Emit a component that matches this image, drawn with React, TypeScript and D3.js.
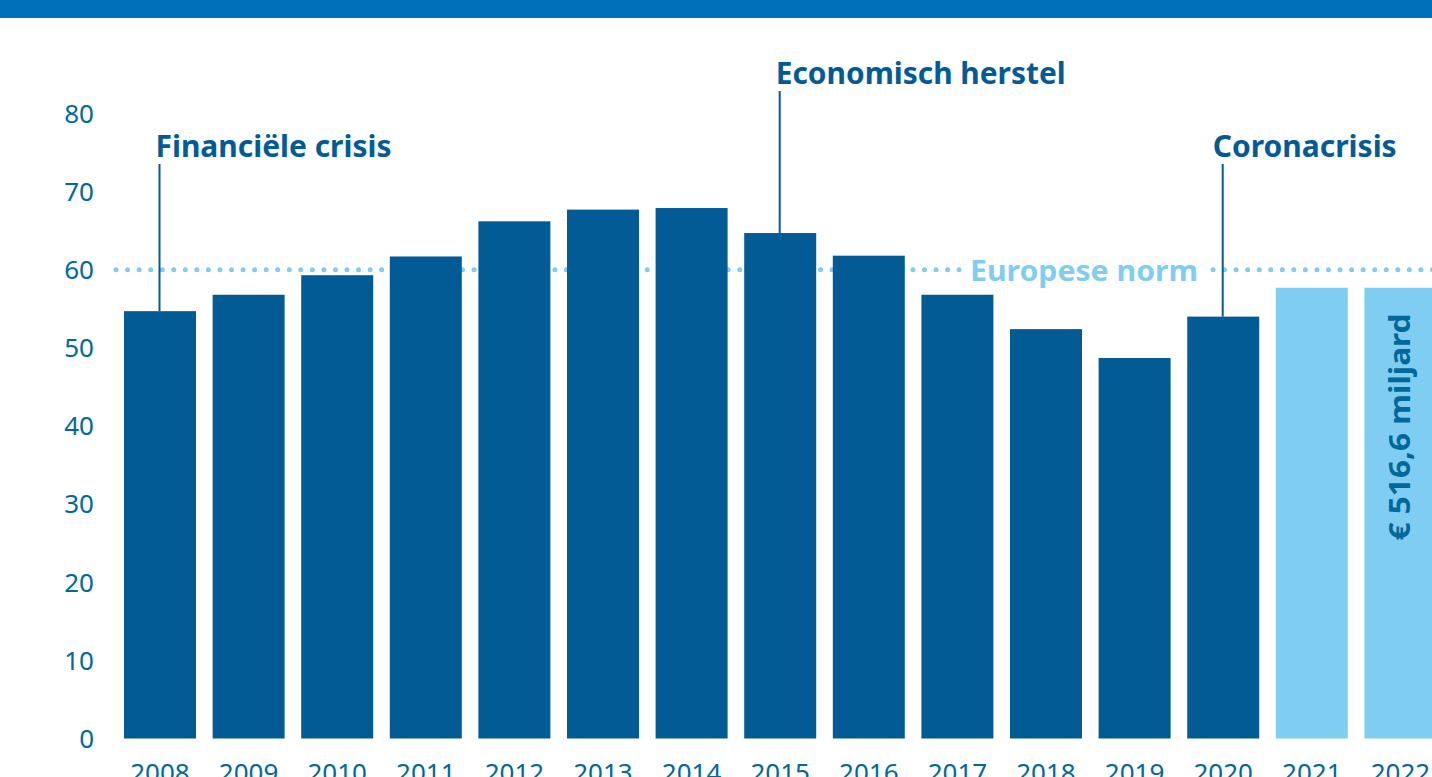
import React from "react";
import * as d3 from "d3";

const years = ["2008","2009","2010","2011","2012","2013","2014","2015","2016","2017","2018","2019","2020","2021","2022"];
const values = [54.7, 56.8, 59.3, 61.7, 66.2, 67.7, 67.9, 64.7, 61.8, 56.8, 52.4, 48.7, 54.0, 57.7, 57.7];
const forecastYears = ["2021", "2022"];
const yTicks = [0, 10, 20, 30, 40, 50, 60, 70, 80];
const normValue = 60;
const normLabel = "Europese norm";
const annotations = [
  { year: "2008", label: "Financiële crisis", labelLevel: 1 },
  { year: "2015", label: "Economisch herstel", labelLevel: 2 },
  { year: "2020", label: "Coronacrisis", labelLevel: 1 },
];
const amountLabel = "€ 516,6 miljard";

const W = 1432, H = 777;
const DARK = "#035B96";
const LIGHT = "#7FCEF2";
const TEXT = "#01689B";
const FONT = "'Noto Sans', sans-serif";

export default function App() {
  const x = d3.scaleBand<string>().domain(years).range([115.7, 1444.7]).paddingInner(0.1874).paddingOuter(0.0937);
  const y = d3.scaleLinear().domain([0, 80]).range([738.5, 113.5]);
  const bw = x.bandwidth();
  const ny = y(normValue);

  const annoWidths: Record<string, number> = { "2008": 236, "2015": 290, "2020": 184 };
  const annoStartOffset: Record<string, number> = { "2008": -4, "2015": -4, "2020": -10 };

  return (
    <svg width={W} height={H} style={{ position: "absolute", left: 0, top: 0, background: "#fff" }} fontFamily={FONT}>
      <rect x={0} y={0} width={W} height={18} fill="#0170BA" />
      <line x1={116} x2={963} y1={ny} y2={ny} stroke={LIGHT} strokeWidth={5} strokeLinecap="round" strokeDasharray="0 11.55" />
      <line x1={1213} x2={1440} y1={ny} y2={ny} stroke={LIGHT} strokeWidth={5} strokeLinecap="round" strokeDasharray="0 11.55" />
      <text x={970} y={ny + 11} fill={LIGHT} fontWeight="bold" fontSize={29} textLength={228} lengthAdjust="spacingAndGlyphs">{normLabel}</text>
      {yTicks.map(t => (
        <text key={t} x={94} y={y(t)} dy="0.36em" textAnchor="end" fill={TEXT} fontSize={26}>{t}</text>
      ))}
      {years.map((yr, i) => (
        <rect key={yr} x={x(yr)} y={y(values[i])} width={bw} height={y(0) - y(values[i])}
          fill={forecastYears.includes(yr) ? LIGHT : DARK} />
      ))}
      {years.map(yr => (
        <text key={yr} x={(x(yr) as number) + bw / 2} y={782} textAnchor="middle" fill={TEXT} fontSize={26}>{yr}</text>
      ))}
      {annotations.map(a => {
        const i = years.indexOf(a.year);
        const lx = (x(a.year) as number) + bw / 2 - 0.5;
        const baseY = a.labelLevel === 2 ? 84 : 157;
        return (
          <g key={a.year}>
            <line x1={lx} x2={lx} y1={baseY + 7} y2={y(values[i])} stroke={DARK} strokeWidth={2} />
            <text x={lx + annoStartOffset[a.year]} y={baseY} fill={DARK} fontWeight="bold" fontSize={30}
              textLength={annoWidths[a.year]} lengthAdjust="spacingAndGlyphs">{a.label}</text>
          </g>
        );
      })}
      <text transform={`translate(${(x("2022") as number) + bw / 2 + 10},${427}) rotate(-90)`} textAnchor="middle"
        fill={TEXT} fontWeight="bold" fontSize={28} textLength={227} lengthAdjust="spacingAndGlyphs">{amountLabel}</text>
    </svg>
  );
}
